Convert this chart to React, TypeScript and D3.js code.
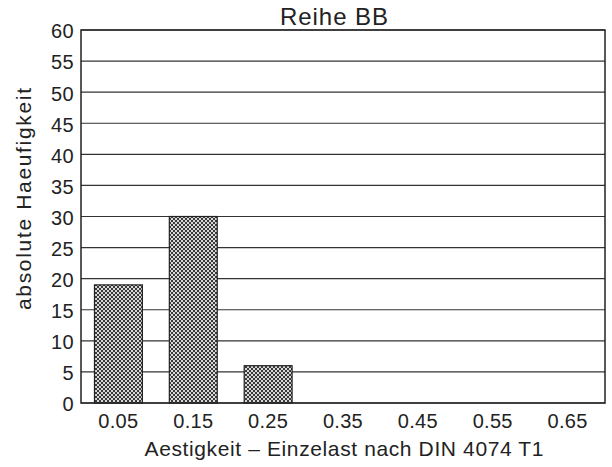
import React from 'react';
import * as d3 from 'd3';

// --- Data ---
const categories = ['0.05', '0.15', '0.25', '0.35', '0.45', '0.55', '0.65'];
const counts = [19, 30, 6, 0, 0, 0, 0];
const yTicks = [0, 5, 10, 15, 20, 25, 30, 35, 40, 45, 50, 55, 60];

const W = 612;
const H = 467;
const margin = { top: 30, right: 7, bottom: 64, left: 81 };

export default function App() {
    const innerW = W - margin.left - margin.right;
    const innerH = H - margin.top - margin.bottom;

    const x = d3.scaleBand().domain(categories).range([0, innerW]).paddingInner(0.36).paddingOuter(0.18);
    const y = d3.scaleLinear().domain([0, 60]).range([innerH, 0]);

    const font = '"Liberation Sans", Arial, sans-serif';

    return (
        <svg width={W} height={H} style={{ position: 'absolute', left: 0, top: 0, background: '#fff' }}>
            <defs>
                <pattern id="hatch" width="4" height="4" patternUnits="userSpaceOnUse">
                    <rect width="4" height="4" fill="#d8d8d8" />
                    <rect x="0" y="0" width="2" height="2" fill="#3a3a3a" />
                    <rect x="2" y="2" width="2" height="2" fill="#3a3a3a" />
                </pattern>
            </defs>
            <text x={334} y={25} textAnchor="middle" fontFamily={font} fontSize={24} fill="#222" textLength={108} lengthAdjust="spacing">
                Reihe BB
            </text>
            <g transform={`translate(${margin.left},${margin.top})`}>
                {yTicks.map(t => (
                    <g key={t}>
                        <line x1={0} x2={innerW} y1={y(t)} y2={y(t)} stroke="#333" strokeWidth={1.2} />
                        <text x={-7} y={y(t)} dy="0.42em" textAnchor="end" fontFamily={font} fontSize={20} letterSpacing={0.4} fill="#222">
                            {t}
                        </text>
                    </g>
                ))}
                {categories.map((c, i) => (
                    counts[i] > 0 && (
                        <rect
                            key={c}
                            x={x(c)}
                            y={y(counts[i])}
                            width={x.bandwidth()}
                            height={y(0) - y(counts[i])}
                            fill="url(#hatch)"
                            stroke="#222"
                            strokeWidth={1.2}
                        />
                    )
                ))}
                <rect x={0} y={0} width={innerW} height={innerH} fill="none" stroke="#222" strokeWidth={1.5} />
                {categories.map(c => (
                    <text key={c} x={(x(c) ?? 0) + x.bandwidth() / 2} y={innerH + 25} textAnchor="middle" fontFamily={font} fontSize={20} letterSpacing={0.3} fill="#222">
                        {c}
                    </text>
                ))}
            </g>
            <text x={344} y={456} textAnchor="middle" fontFamily={font} fontSize={21} fill="#222" textLength={399} lengthAdjust="spacing">
                Aestigkeit  –  Einzelast nach DIN 4074 T1
            </text>
            <text
                transform={`translate(31,199) rotate(-90)`}
                textAnchor="middle"
                fontFamily={font}
                fontSize={21}
                fill="#222"
                textLength={222}
                lengthAdjust="spacing"
            >
                absolute  Haeufigkeit
            </text>
        </svg>
    );
}
